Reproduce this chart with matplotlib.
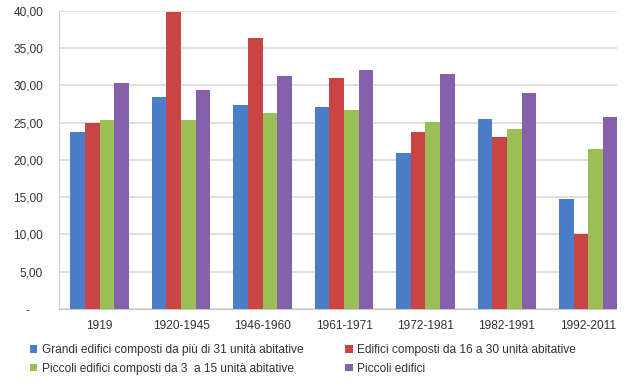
import matplotlib
matplotlib.use("Agg")
import matplotlib.pyplot as plt
import numpy as np
from matplotlib.patches import Rectangle

periods = ["1919", "1920-1945", "1946-1960", "1961-1971", "1972-1981", "1982-1991", "1992-2011"]
series_names = [
    "Grandi edifici composti da più di 31 unità abitative",
    "Edifici composti da 16 a 30 unità abitative",
    "Piccoli edifici composti da 3  a 15 unità abitative",
    "Piccoli edifici",
]
grandi = [23.8, 28.4, 27.3, 27.1, 20.9, 25.5, 14.7]
medi = [25.0, 39.8, 36.3, 31.0, 23.7, 23.1, 10.0]
piccoli_3_15 = [25.3, 25.4, 26.3, 26.7, 25.1, 24.2, 21.5]
piccoli = [30.3, 29.4, 31.2, 32.0, 31.5, 29.0, 25.7]
y_ticks = [0, 5, 10, 15, 20, 25, 30, 35, 40]

colors = ["#4A7EC9", "#C94545", "#9BBF55", "#8461AA"]
plt.rcParams["font.family"] = ["Liberation Sans", "DejaVu Sans"]

W, H = 627, 383
fig = plt.figure(figsize=(W / 100, H / 100), dpi=100)
left, right, top, bottom = 59, 629, 10.7, 309
ax = fig.add_axes([left / W, 1 - bottom / H, (right - left) / W, (bottom - top) / H])

x = np.arange(len(periods))
bw = 0.18
data = [grandi, medi, piccoli_3_15, piccoli]
bars = []
for i, (vals, c) in enumerate(zip(data, colors)):
    b = ax.bar(x + (i - 1.5) * bw, vals, bw, color=c, linewidth=0, zorder=3)
    bars.append(b)

ax.set_xlim(-0.5, len(periods) - 0.5)
ax.set_ylim(0, 40)
ax.set_yticks(y_ticks)
ax.set_yticklabels([("%.2f" % v).replace(".", ",") if v else "-    " for v in y_ticks])
ax.set_xticks(x)
ax.set_xticklabels(periods)
ax.tick_params(axis="y", length=0, pad=11.5, labelsize=8.6, labelcolor="#333333")
ax.tick_params(axis="x", length=0, pad=8, labelsize=8.6, labelcolor="#333333")
ax.yaxis.grid(True, color="#D9D9D9", linewidth=1.2, zorder=0)
ax.set_axisbelow(True)
for s in ["top", "right"]:
    ax.spines[s].set_visible(False)
ax.spines["left"].set_color("#D0D0D0")
ax.spines["bottom"].set_color("#C8C8C8")

handles = [bars[0], bars[2], bars[1], bars[3]]
labels = [series_names[0], series_names[2], series_names[1], series_names[3]]
fig.legend(handles, labels, ncol=2, loc="upper left", bbox_to_anchor=(30 / W, 1 - 344 / H),
           frameon=False, fontsize=8.6, handlelength=0.6, handleheight=0.6,
           handletextpad=0.4, columnspacing=3.5, labelspacing=0.55,
           borderaxespad=0, borderpad=0, labelcolor="#333333")

# white margin at the right edge
fig.patches.append(Rectangle((617 / W, 0), 10 / W, 1, transform=fig.transFigure,
                             facecolor="white", edgecolor="none", zorder=10))

fig.savefig("out.png", dpi=100, facecolor="white")
